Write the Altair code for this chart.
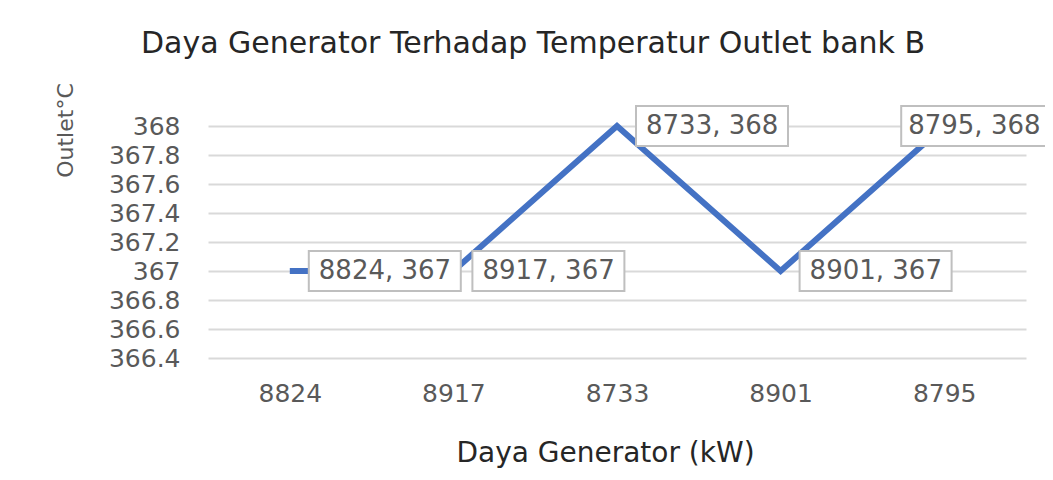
import altair as alt
import pandas as pd

categories = ["8824", "8917", "8733", "8901", "8795"]
outlet = [367, 367, 368, 367, 368]
y_ticks = [366.4, 366.6, 366.8, 367, 367.2, 367.4, 367.6, 367.8, 368]

df = pd.DataFrame({"daya": categories, "outlet": outlet, "idx": list(range(len(categories)))})

FONT = "DejaVu Sans"
GRAY = "#595959"

x_enc = alt.X(
    "daya:N",
    sort=categories,
    scale=alt.Scale(type="point", padding=0.5),
    axis=alt.Axis(
        title="Daya Generator (kW)",
        domain=False,
        ticks=False,
        grid=False,
        labelAngle=0,
        labelFont=FONT,
        labelFontSize=25,
        labelColor=GRAY,
        labelPadding=23,
        titleFont=FONT,
        titleFontSize=28,
        titleFontWeight="normal",
        titleColor="#262626",
        titleX=397,
        titleY=95,
        titleBaseline="middle",
    ),
)

y_scale = alt.Scale(domain=[366.4, 368], nice=False, zero=False)

y_axis = alt.Axis(
    title="Outlet°C",
    values=y_ticks,
    tickCount=len(y_ticks),
    format="~f",
    labelOverlap=False,
    domain=False,
    ticks=False,
    grid=True,
    gridColor="#d9d9d9",
    gridWidth=2,
    labelFont=FONT,
    labelFontSize=25,
    labelColor=GRAY,
    labelPadding=28,
    titleFont=FONT,
    titleFontSize=22,
    titleFontWeight="normal",
    titleColor=GRAY,
    titleX=-143,
    titleY=4,
    titleAngle=-90,
    titleAlign="center",
    titleBaseline="middle",
)

base = alt.Chart(df)

line = base.mark_line(color="#4472C4", strokeWidth=6).encode(
    x=x_enc, y=alt.Y("outlet:Q", scale=y_scale, axis=y_axis)
)

lab = base.transform_calculate(label="datum.daya + ', ' + datum.outlet")

main_lab = lab.transform_filter("datum.idx < 4")
last_lab = lab.transform_filter("datum.idx == 4")

box_main = main_lab.mark_rect(
    fill="white", stroke="#bfbfbf", strokeWidth=2,
    xOffset=19, x2Offset=171, yOffset=-20, y2Offset=20,
).encode(x=alt.X("daya:N", sort=categories), x2="daya:N",
         y="outlet:Q", y2="outlet:Q")

txt_main = main_lab.mark_text(
    align="left", baseline="middle", dx=29, fontSize=26, font=FONT, color=GRAY
).encode(x=alt.X("daya:N", sort=categories), y="outlet:Q", text="label:N")

box_last = last_lab.mark_rect(
    fill="white", stroke="#bfbfbf", strokeWidth=2,
    xOffset=-43, x2Offset=109, yOffset=-20, y2Offset=20,
).encode(x=alt.X("daya:N", sort=categories), x2="daya:N",
         y="outlet:Q", y2="outlet:Q")

txt_last = last_lab.mark_text(
    align="left", baseline="middle", dx=-36, fontSize=26, font=FONT, color=GRAY
).encode(x=alt.X("daya:N", sort=categories), y="outlet:Q", text="label:N")

chart = alt.layer(line, box_main, txt_main, box_last, txt_last).properties(
    width=818,
    height=232,
    padding={"left": 200, "top": 118, "right": 19, "bottom": 110},
    autosize=alt.AutoSizeParams(type="none"),
    view=alt.ViewBackground(strokeWidth=0, strokeOpacity=0),
    title=alt.TitleParams(
        "Daya Generator Terhadap Temperatur Outlet bank B",
        font=FONT,
        fontSize=30,
        fontWeight="normal",
        color="#262626",
        anchor="middle",
        frame="group",
        dx=-84,
        offset=24,
    ),
).configure_view(stroke="transparent", strokeWidth=0).configure(background="white")

chart.save("out.html", embed_options={"renderer": "svg", "actions": False})
